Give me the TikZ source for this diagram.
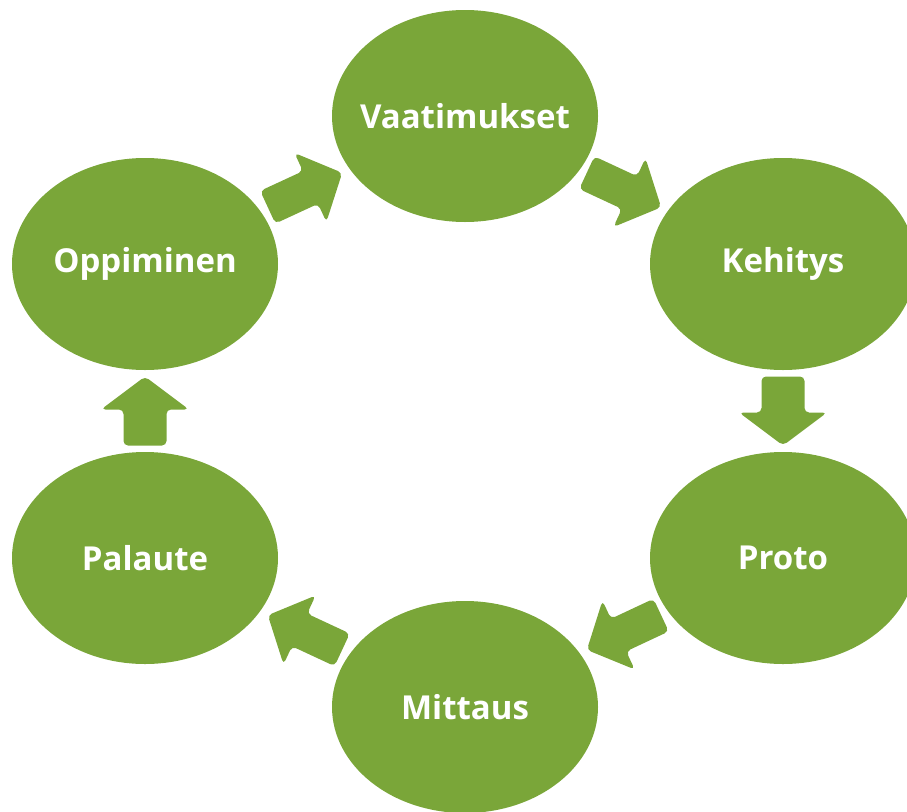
\documentclass[tikz,border=0pt]{standalone}
\usepackage{fontspec}
\setmainfont{Open Sans}
\usetikzlibrary{shapes.geometric}
\definecolor{leaf}{RGB}{122,166,57}
\tikzset{
  phase/.style={ellipse, fill=leaf, draw=none, minimum width=266pt, minimum height=212pt, inner sep=0pt},
  phasetext/.style={text=white, font=\bfseries\fontsize{33}{38}\selectfont, inner sep=0pt},
  pics/blockarrow/.style n args={4}{code={
    \fill[leaf, rounded corners=4.5pt]
      ({-#1/2},{-#2/2}) -- ({#1/2-#4},{-#2/2}) -- ({#1/2-#4},{-#3/2})
      -- ({#1/2},0) -- ({#1/2-#4},{#3/2}) -- ({#1/2-#4},{#2/2})
      -- ({-#1/2},{#2/2}) -- cycle;
  }},
  diagarrow/.style={pos=0.5, sloped, allow upside down},
}
\begin{document}
\begin{tikzpicture}[x=1pt, y=-1pt]
\useasboundingbox (0,0) rectangle (907,811);
\clip (0,0) rectangle (907,811);
\node[phase] (v) at (465,116) {};
\node[phase] (k) at (783,264) {};
\node[phase] (p) at (783,558) {};
\node[phase] (m) at (465,707) {};
\node[phase] (pa) at (145,558) {};
\node[phase] (o) at (145,264) {};
\node[phasetext] (tv) at (v) {Vaatimukset};
\node[phasetext] (tk) at (k) {Kehitys};
\node[phasetext] (tp) at (p) {Proto};
\node[phasetext] (tm) at (m) {Mittaus};
\node[phasetext] (tpa) at (pa) {Palaute};
\node[phasetext] (to) at (o) {Oppiminen};
\path (o.center) -- (v.center) pic[diagarrow] {blockarrow={82}{36}{76}{35}};
\path (v.center) -- (k.center) pic[diagarrow] {blockarrow={82}{36}{76}{35}};
\path (k.center) -- (p.center) pic[diagarrow] {blockarrow={69}{43}{88}{33}};
\path (p.center) -- (m.center) pic[diagarrow] {blockarrow={82}{36}{76}{35}};
\path (m.center) -- (pa.center) pic[diagarrow] {blockarrow={82}{36}{76}{35}};
\path (pa.center) -- (o.center) pic[diagarrow] {blockarrow={69}{43}{88}{33}};
\end{tikzpicture}
\end{document}
